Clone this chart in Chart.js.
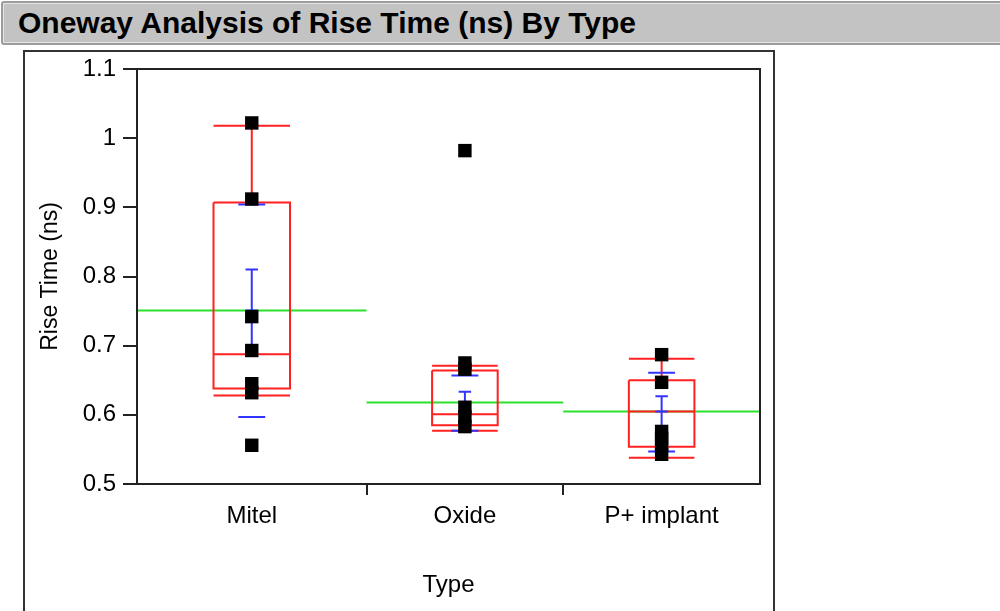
<!DOCTYPE html>
<html>
<head>
<meta charset="utf-8">
<script src="https://cdn.jsdelivr.net/npm/chart.js@4.4.1/dist/chart.umd.min.js"></script>
<style>
  html, body { margin:0; padding:0; background:#fff; }
  body { width:1000px; height:611px; position:relative; overflow:hidden; font-family:"Liberation Sans", Arial, sans-serif; }
  #titlebar { position:absolute; left:1px; top:1px; width:1005px; height:40px; background:#c3c3c3;
    border:2px solid #9c9c9c; border-radius:3px; box-shadow: inset 1px 1px 0 #e6e6e6, inset -1px -1px 0 #e6e6e6; }
  #titlebar span { position:absolute; left:15px; top:0; line-height:40px; font-weight:bold; font-size:30px; color:#000; white-space:nowrap; }
  #panel { position:absolute; left:23px; top:50px; width:748px; height:600px; border:2px solid #333; border-bottom:none; background:#fff; }
  #c { position:absolute; left:0; top:0; }
</style>
</head>
<body>
<div id="titlebar"><span>Oneway Analysis of Rise Time (ns) By Type</span></div>
<div id="panel"></div>
<canvas id="c" width="1000" height="611"></canvas>
<script>
// ---- data ----
const categories = ['Mitel', 'Oxide', 'P+ implant'];
const mitelValues    = [1.022, 0.912, 0.742, 0.693, 0.645, 0.632, 0.556];
const oxideValues    = [0.982, 0.675, 0.666, 0.611, 0.597, 0.583];
const implantValues  = [0.687, 0.647, 0.576, 0.566, 0.556, 0.543];

const boxQ1      = [0.638, 0.585, 0.554];
const boxMedian  = [0.6875, 0.601, 0.605];
const boxQ3      = [0.907, 0.664, 0.650];
const whiskerLo  = [0.628, 0.577, 0.538];
const whiskerHi  = [1.018, 0.671, 0.681];
const groupMeans = [0.751, 0.618, 0.605];
const stdErrLo   = [0.692, 0.6025, 0.584];
const stdErrHi   = [0.810, 0.6335, 0.627];
const stdDevLo   = [0.597, 0.577, 0.547];
const stdDevHi   = [0.904, 0.657, 0.661];

const yMin = 0.5, yMax = 1.1, yStep = 0.1;
const xTitle = 'Type';
const yTitle = 'Rise Time (ns)';

// ---- build structures ----
const groupValues = [mitelValues, oxideValues, implantValues];
const counts = groupValues.map(v => v.length);
const starts = [];
let acc = 0;
counts.forEach(n => { starts.push(acc); acc += n; });
const total = acc;
const centers = counts.map((n, i) => starts[i] + n / 2);

const GAP = {x: null, y: null};
const points = [];
groupValues.forEach((vals, i) => vals.forEach(v => points.push({x: centers[i], y: v})));

const redSegs = [], blueSegs = [], greenSegs = [];
const seHalf = 0.19, sdHalf = 0.41;
categories.forEach((c, i) => {
  const hw = counts[i] / 6;
  const x0 = centers[i] - hw, x1 = centers[i] + hw, cx = centers[i];
  redSegs.push({x:x0,y:boxQ3[i]},{x:x1,y:boxQ3[i]},{x:x1,y:boxQ1[i]},{x:x0,y:boxQ1[i]},{x:x0,y:boxQ3[i]},GAP,
    {x:x0,y:boxMedian[i]},{x:x1,y:boxMedian[i]},GAP,
    {x:cx,y:boxQ3[i]},{x:cx,y:whiskerHi[i]},GAP,
    {x:x0,y:whiskerHi[i]},{x:x1,y:whiskerHi[i]},GAP,
    {x:cx,y:boxQ1[i]},{x:cx,y:whiskerLo[i]},GAP,
    {x:x0,y:whiskerLo[i]},{x:x1,y:whiskerLo[i]},GAP);
  blueSegs.push({x:cx,y:stdErrLo[i]},{x:cx,y:stdErrHi[i]},GAP,
    {x:cx-seHalf,y:stdErrHi[i]},{x:cx+seHalf,y:stdErrHi[i]},GAP,
    {x:cx-seHalf,y:stdErrLo[i]},{x:cx+seHalf,y:stdErrLo[i]},GAP,
    {x:cx-seHalf,y:groupMeans[i]},{x:cx+seHalf,y:groupMeans[i]},GAP,
    {x:cx-sdHalf,y:stdDevHi[i]},{x:cx+sdHalf,y:stdDevHi[i]},GAP,
    {x:cx-sdHalf,y:stdDevLo[i]},{x:cx+sdHalf,y:stdDevLo[i]},GAP);
  greenSegs.push({x:starts[i],y:groupMeans[i]},{x:starts[i]+counts[i],y:groupMeans[i]},GAP);
});

const tickDefs = [];
categories.forEach((c, i) => {
  tickDefs.push({value: centers[i], label: c, mark: false});
  if (i < categories.length - 1) tickDefs.push({value: starts[i] + counts[i], label: '', mark: true});
});

const FONT = '"Liberation Sans", Arial, sans-serif';
Chart.defaults.font.family = FONT;
Chart.defaults.font.size = 24;
Chart.defaults.color = '#000';

const framePlugin = {
  id: 'frame',
  afterDatasetsDraw(chart) {
    const a = chart.chartArea, ctx = chart.ctx;
    ctx.save();
    ctx.strokeStyle = '#222';
    ctx.lineWidth = 2;
    ctx.strokeRect(a.left, a.top, a.right - a.left, a.bottom - a.top);
    ctx.restore();
  }
};

const lineDs = (data, color) => ({
  type: 'scatter', data, showLine: true, spanGaps: false,
  borderColor: color, borderWidth: 2, pointRadius: 0, pointHoverRadius: 0, fill: false
});

new Chart(document.getElementById('c'), {
  type: 'scatter',
  data: {
    datasets: [
      { data: points, pointStyle: 'rect', pointRadius: 9.5, pointHoverRadius: 9.5,
        backgroundColor: '#000', borderWidth: 0, showLine: false },
      lineDs(blueSegs, '#3434ff'),
      lineDs(redSegs, '#ff2020'),
      lineDs(greenSegs, '#2de02d')
    ]
  },
  options: {
    responsive: false,
    animation: false,
    events: [],
    layout: { padding: { left: 0, top: 69, right: 240, bottom: 0 } },
    plugins: { legend: { display: false }, tooltip: { enabled: false } },
    scales: {
      x: {
        type: 'linear', min: 0, max: total,
        afterFit(s) { s.height = 127; },
        afterBuildTicks(s) { s.ticks = tickDefs.map(t => ({value: t.value})); },
        border: { display: false },
        grid: { drawOnChartArea: false, tickLength: 11, lineWidth: 2,
          tickColor: ctx => (tickDefs[ctx.index] && tickDefs[ctx.index].mark) ? '#222' : 'rgba(0,0,0,0)' },
        ticks: { autoSkip: false, maxRotation: 0, padding: 7, color: '#000',
          callback: (v, i) => tickDefs[i] ? tickDefs[i].label : '' },
        title: { display: true, text: xTitle, color: '#000', font: { size: 24 }, padding: { top: 0, bottom: 11 } }
      },
      y: {
        type: 'linear', min: yMin, max: yMax,
        afterFit(s) { s.width = 137; },
        border: { display: false },
        grid: { drawOnChartArea: false, tickLength: 14, lineWidth: 2, tickColor: '#222' },
        ticks: { stepSize: yStep, padding: 7, color: '#000',
          callback: v => String(Number(v.toFixed(1))) },
        title: { display: true, text: yTitle, color: '#000', font: { size: 23 }, padding: { top: 37, bottom: 0 } }
      }
    }
  },
  plugins: [framePlugin]
});
</script>
</body>
</html>
